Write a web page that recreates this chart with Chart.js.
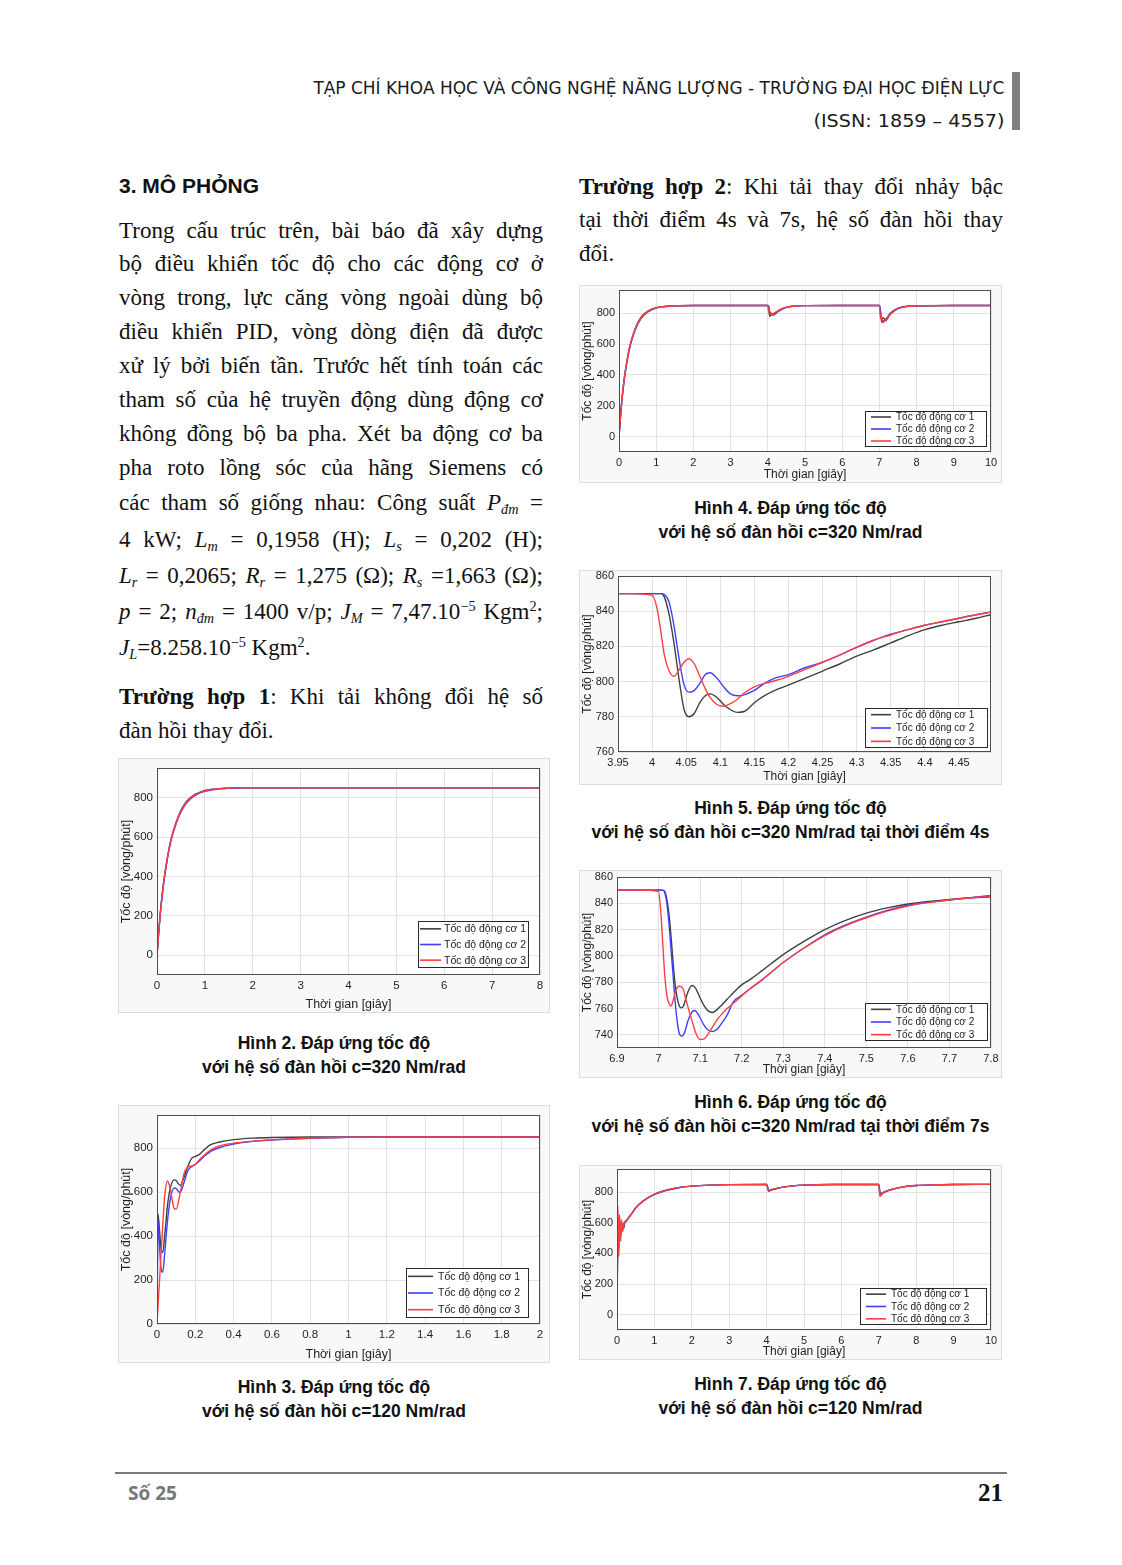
<!DOCTYPE html>
<html><head><meta charset="utf-8">
<script src="https://cdn.jsdelivr.net/npm/chart.js@4.4.1/dist/chart.umd.min.js"></script>
<style>
html,body{margin:0;padding:0;background:#fff;}
body{width:1122px;height:1565px;position:relative;overflow:hidden;}
.abs{position:absolute;white-space:nowrap;}
.hdr{font-family:'Liberation Sans Narrow','DejaVu Sans Condensed',sans-serif;font-size:18px;color:#1a1a1a;line-height:24px;transform-origin:right center;}
.tx{position:absolute;font-family:'Liberation Serif','Times New Roman',serif;font-size:23px;color:#111;line-height:30px;width:424px;white-space:nowrap;text-align:justify;text-align-last:justify;}
.nj{text-align-last:left;}
.h3{position:absolute;font-family:'Liberation Sans',Arial,sans-serif;font-weight:bold;font-size:21px;line-height:26px;color:#111;}
.cap{position:absolute;font-family:'Liberation Sans',Arial,sans-serif;font-weight:bold;font-size:17.5px;text-align:center;line-height:24px;color:#111;white-space:nowrap;}
.fig{position:absolute;}
.fig canvas{display:block;}
sub,sup{font-size:0.62em;line-height:0;}
sub{vertical-align:-0.3em;}
sup{vertical-align:0.55em;}
</style>
</head><body>

<!-- header -->
<div class="abs hdr" id="hdr1" style="right:118px;top:76px;">TẠP CHÍ KHOA HỌC VÀ CÔNG NGHỆ NĂNG LƯỢNG - TRƯỜNG ĐẠI HỌC ĐIỆN LỰC</div>
<div class="abs hdr" id="hdr2" style="right:118px;top:109px;">(ISSN: 1859 – 4557)</div>
<div class="abs" style="left:1012px;top:72px;width:8px;height:58px;background:#7f7f7f;"></div>

<!-- left column -->
<div class="h3" style="left:119px;top:173px;">3. MÔ PHỎNG</div>
<div class="tx" style="left:119px;top:216px;">Trong cấu trúc trên, bài báo đã xây dựng</div>
<div class="tx" style="left:119px;top:249px;">bộ điều khiển tốc độ cho các động cơ ở</div>
<div class="tx" style="left:119px;top:283px;">vòng trong, lực căng vòng ngoài dùng bộ</div>
<div class="tx" style="left:119px;top:317px;">điều khiển PID, vòng dòng điện đã được</div>
<div class="tx" style="left:119px;top:351px;">xử lý bởi biến tần. Trước hết tính toán các</div>
<div class="tx" style="left:119px;top:385px;">tham số của hệ truyền động dùng động cơ</div>
<div class="tx" style="left:119px;top:419px;">không đồng bộ ba pha. Xét ba động cơ ba</div>
<div class="tx" style="left:119px;top:453px;">pha roto lồng sóc của hãng Siemens có</div>
<div class="tx" style="left:119px;top:488px;">các tham số giống nhau: Công suất <i>P<sub>đm</sub></i> =</div>
<div class="tx" style="left:119px;top:525px;">4 kW; <i>L<sub>m</sub></i> = 0,1958 (H); <i>L<sub>s</sub></i> = 0,202 (H);</div>
<div class="tx" style="left:119px;top:561px;"><i>L<sub>r</sub></i> = 0,2065; <i>R<sub>r</sub></i> = 1,275 (Ω); <i>R<sub>s</sub></i> =1,663 (Ω);</div>
<div class="tx" style="left:119px;top:597px;"><i>p</i> = 2; <i>n<sub>đm</sub></i> = 1400 v/p; <i>J<sub>M</sub></i> = 7,47.10<sup>−5</sup> Kgm<sup>2</sup>;</div>
<div class="tx nj" style="left:119px;top:633px;"><i>J<sub>L</sub></i>=8.258.10<sup>−5</sup> Kgm<sup>2</sup>.</div>
<div class="tx" style="left:119px;top:682px;"><b>Trường hợp 1</b>: Khi tải không đổi hệ số</div>
<div class="tx nj" style="left:119px;top:716px;">đàn hồi thay đổi.</div>

<!-- right column -->
<div class="tx" style="left:579px;top:172px;"><b>Trường hợp 2</b>: Khi tải thay đổi nhảy bậc</div>
<div class="tx" style="left:579px;top:205px;">tại thời điểm 4s và 7s, hệ số đàn hồi thay</div>
<div class="tx nj" style="left:579px;top:239px;">đổi.</div>

<!-- figures -->
<div class="fig" style="left:118px;top:758px;"><canvas id="c2" width="432" height="255"></canvas></div>
<div class="cap" style="left:118px;width:432px;top:1031px;">Hình 2. Đáp ứng tốc độ<br>với hệ số đàn hồi c=320 Nm/rad</div>

<div class="fig" style="left:118px;top:1105px;"><canvas id="c3" width="432" height="258"></canvas></div>
<div class="cap" style="left:118px;width:432px;top:1375px;">Hình 3. Đáp ứng tốc độ<br>với hệ số đàn hồi c=120 Nm/rad</div>

<div class="fig" style="left:579px;top:285px;"><canvas id="c4" width="423" height="198"></canvas></div>
<div class="cap" style="left:579px;width:423px;top:496px;">Hình 4. Đáp ứng tốc độ<br>với hệ số đàn hồi c=320 Nm/rad</div>

<div class="fig" style="left:579px;top:570px;"><canvas id="c5" width="423" height="215"></canvas></div>
<div class="cap" style="left:579px;width:423px;top:796px;">Hình 5. Đáp ứng tốc độ<br>với hệ số đàn hồi c=320 Nm/rad tại thời điểm 4s</div>

<div class="fig" style="left:579px;top:870px;"><canvas id="c6" width="423" height="208"></canvas></div>
<div class="cap" style="left:579px;width:423px;top:1090px;">Hình 6. Đáp ứng tốc độ<br>với hệ số đàn hồi c=320 Nm/rad tại thời điểm 7s</div>

<div class="fig" style="left:579px;top:1165px;"><canvas id="c7" width="423" height="195"></canvas></div>
<div class="cap" style="left:579px;width:423px;top:1372px;">Hình 7. Đáp ứng tốc độ<br>với hệ số đàn hồi c=120 Nm/rad</div>

<!-- footer -->
<div class="abs" style="left:115px;top:1472px;width:892px;height:2px;background:#7a7a7a;"></div>
<div class="abs" style="left:128px;top:1481px;font-family:'Open Sans','Liberation Sans',sans-serif;font-weight:bold;font-size:19px;line-height:24px;color:#777;">Số 25</div>
<div class="abs" style="right:119px;top:1479px;font-family:'Liberation Serif',serif;font-weight:bold;font-size:25px;line-height:28px;color:#111;">21</div>

<script>
// ---------------- DATA ----------------
const seriesLabels = ['Tốc độ động cơ 1', 'Tốc độ động cơ 2', 'Tốc độ động cơ 3'];

// Hình 2: c=320, tải không đổi (0..8 s)
const fig2_t  = [0, 0.03, 0.06, 0.1, 0.15, 0.2, 0.25, 0.3, 0.4, 0.5, 0.6, 0.7, 0.8, 0.9, 1.0, 1.2, 1.4, 1.6, 1.8, 2.0, 3, 4, 5, 6, 7, 8];
const fig2_m1 = [0, 100, 190, 290, 390, 470, 540, 595, 675, 735, 775, 800, 817, 828, 836, 843, 847, 849, 850, 850, 850, 850, 850, 850, 850, 850];
const fig2_m2 = [0, 95, 185, 285, 385, 465, 533, 588, 668, 727, 767, 793, 811, 824, 832, 841, 846, 848, 849, 850, 850, 850, 850, 850, 850, 850];
const fig2_m3 = [0, 98, 188, 288, 388, 468, 537, 592, 672, 731, 771, 797, 814, 826, 834, 842, 846, 849, 850, 850, 850, 850, 850, 850, 850, 850];
const fig2_xticks = [0, 1, 2, 3, 4, 5, 6, 7, 8];
const fig2_yticks = [0, 200, 400, 600, 800];

// Hình 3: c=120, tải không đổi (0..2 s)
const fig3_t  = [0, 0.005, 0.012, 0.02, 0.03, 0.04, 0.055, 0.07, 0.09, 0.1, 0.12, 0.14, 0.16, 0.18, 0.2, 0.22, 0.25, 0.28, 0.32, 0.4, 0.5, 0.6, 0.8, 1.0, 1.2, 1.5, 2.0];
const fig3_m1 = [0, 500, 440, 350, 325, 400, 540, 620, 655, 652, 630, 665, 715, 752, 762, 770, 795, 815, 826, 838, 845, 848, 850, 850, 850, 850, 850];
const fig3_m2 = [0, 470, 380, 260, 235, 320, 470, 570, 618, 615, 598, 640, 695, 715, 725, 740, 765, 785, 800, 818, 830, 836, 844, 849, 850, 850, 850];
const fig3_m3 = [0, 80, 180, 300, 450, 580, 650, 610, 525, 522, 590, 680, 712, 718, 725, 745, 770, 790, 808, 822, 831, 837, 845, 849, 850, 850, 850];
const fig3_xticks = [0, 0.2, 0.4, 0.6, 0.8, 1, 1.2, 1.4, 1.6, 1.8, 2];
const fig3_yticks = [0, 200, 400, 600, 800];

// Hình 4: c=320, tải thay đổi tại 4 s và 7 s (0..10 s)
const fig4_t  = [0, 0.03, 0.06, 0.1, 0.15, 0.2, 0.3, 0.4, 0.5, 0.6, 0.7, 0.8, 1.0, 1.2, 1.5, 2, 3, 4, 4.02, 4.05, 4.1, 4.15, 4.25, 4.4, 4.6, 4.8, 5, 6, 7, 7.03, 7.06, 7.1, 7.15, 7.3, 7.5, 7.8, 8.2, 9, 10];
const fig4_m1 = [0, 100, 190, 290, 390, 470, 595, 675, 735, 775, 800, 817, 836, 843, 848, 850, 850, 850, 845, 780, 790, 788, 806, 828, 842, 847, 849, 850, 850, 800, 760, 770, 760, 801, 833, 845, 848, 850, 850];
const fig4_m2 = [0, 95, 185, 285, 385, 465, 588, 668, 727, 767, 793, 811, 832, 841, 847, 850, 850, 850, 848, 795, 800, 795, 811, 830, 843, 847, 849, 850, 850, 820, 740, 753, 748, 795, 830, 846, 848, 850, 850];
const fig4_m3 = [0, 98, 188, 288, 388, 468, 592, 672, 731, 771, 797, 814, 834, 842, 848, 850, 850, 850, 810, 812, 788, 797, 811, 830, 843, 847, 849, 850, 850, 765, 776, 738, 755, 795, 829, 845, 848, 850, 850];
const fig4_xticks = [0, 1, 2, 3, 4, 5, 6, 7, 8, 9, 10];
const fig4_yticks = [0, 200, 400, 600, 800];

// Hình 5: c=320, chi tiết tại 4 s
const fig5_t  = [3.95, 3.97, 4.0, 4.007, 4.013, 4.018, 4.025, 4.032, 4.04, 4.047, 4.054, 4.062, 4.07, 4.078, 4.085, 4.095, 4.105, 4.115, 4.125, 4.135, 4.15, 4.165, 4.18, 4.2, 4.225, 4.25, 4.275, 4.3, 4.325, 4.35, 4.375, 4.4, 4.425, 4.45, 4.475, 4.497];
const fig5_m1 = [850, 850, 850, 850, 850, 848, 838, 822, 800, 784, 780, 782, 788, 792, 793, 791, 787, 784, 782.5, 783, 788, 792, 795, 798, 802, 806, 810, 814.5, 818, 822, 826, 829.5, 832, 834, 836, 838];
const fig5_m2 = [850, 850, 850, 850, 850, 849.5, 845, 832, 812, 798, 794, 795, 799, 804, 805, 802, 797, 793, 792, 792.5, 795, 799, 802, 804, 808, 811, 815, 819.5, 823.5, 827, 829.5, 832, 834, 836, 838, 839.5];
const fig5_m3 = [850, 850, 849, 842, 828, 815, 806, 803, 807, 811, 813, 810, 803, 796, 791, 787, 786, 787.5, 790, 793.5, 797, 799, 800.5, 803, 807, 811, 815, 819.5, 823.5, 826.5, 829.5, 832, 834, 836, 838, 839.5];
const fig5_xticks = [3.95, 4, 4.05, 4.1, 4.15, 4.2, 4.25, 4.3, 4.35, 4.4, 4.45];
const fig5_yticks = [760, 780, 800, 820, 840, 860];

// Hình 6: c=320, chi tiết tại 7 s
const fig6_t  = [6.9, 6.95, 7.0, 7.005, 7.01, 7.015, 7.02, 7.025, 7.03, 7.035, 7.04, 7.045, 7.05, 7.055, 7.06, 7.065, 7.07, 7.08, 7.085, 7.09, 7.1, 7.11, 7.12, 7.13, 7.14, 7.15, 7.165, 7.18, 7.2, 7.22, 7.25, 7.3, 7.35, 7.4, 7.45, 7.5, 7.55, 7.6, 7.7, 7.8];
const fig6_m1 = [850, 850, 850, 850, 850, 849, 843, 832, 815, 795, 778, 768, 762, 760.5, 762, 767, 772, 777.5, 777, 775, 768, 762, 758, 757, 759, 762, 767, 772, 778, 782, 789, 801, 811, 820, 827, 832.5, 836.5, 839.5, 843, 845];
const fig6_m2 = [850, 850, 850, 850, 850, 848, 840, 825, 805, 785, 765, 750, 741, 739, 740, 744, 750, 757, 758.5, 758, 753, 747, 743.5, 742.5, 744, 748, 755, 765, 770, 775, 782, 795, 806, 816, 823.5, 829.5, 834.5, 838.5, 842.5, 846];
const fig6_m3 = [850, 850, 849, 835, 810, 785, 770, 764, 762, 766, 772, 776, 777, 776.5, 774, 768, 762, 751, 746, 741, 736.5, 737, 741, 746, 751, 755, 760, 764, 769.5, 775, 782, 795, 806, 815.5, 823, 829, 834, 838, 842.5, 845.5];
const fig6_xticks = [6.9, 7, 7.1, 7.2, 7.3, 7.4, 7.5, 7.6, 7.7, 7.8];
const fig6_yticks = [740, 760, 780, 800, 820, 840, 860];

// Hình 7: c=120, tải thay đổi tại 4 s và 7 s (0..10 s)
const fig7_t  = [0, 0.01, 0.02, 0.03, 0.04, 0.05, 0.06, 0.08, 0.1, 0.12, 0.15, 0.18, 0.2, 0.25, 0.3, 0.4, 0.5, 0.7, 1.0, 1.3, 1.6, 2.0, 2.5, 3, 4, 4.03, 4.06, 4.1, 4.2, 4.4, 4.7, 5, 6, 7, 7.03, 7.06, 7.1, 7.2, 7.4, 7.7, 8, 8.5, 9, 10];
const fig7_m1 = [0, 250, 420, 560, 500, 430, 480, 560, 520, 580, 590, 560, 600, 612, 628, 662, 697, 742, 785, 810, 826, 838, 845, 848, 850, 830, 805, 810, 818, 830, 840, 845, 849, 850, 800, 790, 795, 805, 820, 835, 842, 847, 849, 850];
const fig7_m2 = [0, 300, 500, 450, 380, 520, 560, 480, 540, 600, 560, 580, 600, 612, 627, 660, 695, 740, 784, 810, 826, 838, 845, 848, 850, 825, 808, 812, 818, 830, 840, 845, 849, 850, 790, 780, 792, 805, 820, 835, 842, 847, 849, 850];
const fig7_m3 = [0, 400, 710, 600, 450, 380, 650, 610, 480, 620, 540, 600, 590, 615, 629, 662, 697, 742, 786, 811, 827, 838, 845, 848, 850, 815, 808, 815, 820, 830, 840, 845, 849, 850, 770, 785, 790, 805, 820, 835, 842, 847, 849, 850];
const fig7_xticks = [0, 1, 2, 3, 4, 5, 6, 7, 8, 9, 10];
const fig7_yticks = [0, 200, 400, 600, 800];

// ---------------- STYLE / LAYOUT ----------------
const lineColors = ['#404040', '#3f3fff', '#ff3f3f'];
const FONT = '"Liberation Sans", Arial, sans-serif';

const decor = {
  id: 'decor',
  beforeDraw(chart) {
    const c = chart.ctx, a = chart.chartArea;
    c.save();
    c.fillStyle = '#f8f8f8';
    c.fillRect(0, 0, chart.width, chart.height);
    c.strokeStyle = '#dcdcdc';
    c.lineWidth = 1;
    c.strokeRect(0.5, 0.5, chart.width - 1, chart.height - 1);
    c.fillStyle = '#ffffff';
    c.fillRect(a.left, a.top, a.right - a.left, a.bottom - a.top);
    c.restore();
  },
  afterDatasetsDraw(chart, args, L) {
    const c = chart.ctx, a = chart.chartArea;
    c.save();
    c.strokeStyle = '#4d4d4d';
    c.lineWidth = 1;
    c.strokeRect(Math.round(a.left) + 0.5, Math.round(a.top) + 0.5, Math.round(a.right - a.left) - 1, Math.round(a.bottom - a.top) - 1);
    const x0 = Math.round(a.right - L.r - L.w), y0 = Math.round(a.bottom - L.b - L.h);
    c.fillStyle = '#fff';
    c.fillRect(x0, y0, L.w, L.h);
    c.strokeStyle = '#2a2a2a';
    c.strokeRect(x0 + 0.5, y0 + 0.5, L.w - 1, L.h - 1);
    const rh = L.h / 3;
    c.font = L.fs + 'px ' + FONT;
    c.textBaseline = 'middle';
    chart.data.datasets.forEach((d, i) => {
      const yy = y0 + rh * (i + 0.5);
      c.strokeStyle = d.borderColor;
      c.lineWidth = 1.6;
      c.beginPath(); c.moveTo(x0 + L.lx, yy); c.lineTo(x0 + L.lx + L.ll, yy); c.stroke();
      c.fillStyle = '#1a1a1a';
      c.fillText(d.label, x0 + L.tx, yy + 0.5);
    });
    c.restore();
  }
};

function fmt(v) { return String(+v.toFixed(3)); }

function makeChart(f) {
  const datasets = f.s.map((arr, i) => ({
    label: seriesLabels[i],
    data: f.t.map((x, j) => ({ x: x, y: arr[j] })),
    borderColor: lineColors[i],
    borderWidth: 1.4,
    pointRadius: 0,
    fill: false,
    cubicInterpolationMode: 'monotone',
    order: 3 - i
  }));
  const tickFont = { family: FONT, size: f.fs };
  const titleFont = { family: FONT, size: f.ts };
  new Chart(document.getElementById(f.id), {
    type: 'line',
    data: { datasets },
    options: {
      responsive: false, animation: false, devicePixelRatio: 1,
      layout: { padding: { left: 0, top: f.pt, right: f.pr, bottom: 0 } },
      plugins: { legend: { display: false }, tooltip: { enabled: false }, decor: f.lg },
      scales: {
        x: {
          type: 'linear', min: f.xr[0], max: f.xr[1],
          afterBuildTicks: ax => { ax.ticks = f.xt.map(v => ({ value: v })); },
          afterFit: s => { s.height = f.xh; s.paddingLeft = 0; s.paddingRight = 0; s.paddingTop = 0; s.paddingBottom = 0; },
          grid: { color: '#e2e2e2', drawTicks: false, lineWidth: 1 },
          border: { display: false },
          ticks: { font: tickFont, color: '#1f1f1f', padding: 4, maxRotation: 0, autoSkip: false, callback: v => fmt(v) },
          title: { display: true, text: 'Thời gian [giây]', font: titleFont, color: '#1f1f1f', padding: { top: 0, bottom: 1 } }
        },
        y: {
          type: 'linear', min: f.yr[0], max: f.yr[1],
          afterBuildTicks: ax => { ax.ticks = f.yt.map(v => ({ value: v })); },
          afterFit: s => { s.width = f.yw; s.paddingLeft = 0; s.paddingRight = 0; s.paddingTop = 0; s.paddingBottom = 0; },
          grid: { color: '#e2e2e2', drawTicks: false, lineWidth: 1 },
          border: { display: false },
          ticks: { font: tickFont, color: '#1f1f1f', padding: 4, autoSkip: false, callback: v => fmt(v) },
          title: { display: true, text: 'Tốc độ [vòng/phút]', font: titleFont, color: '#1f1f1f', padding: { top: 1, bottom: 0 } }
        }
      }
    },
    plugins: [decor]
  });
}

const figs = [
  { id: 'c2', t: fig2_t, s: [fig2_m1, fig2_m2, fig2_m3], xr: [0, 8], xt: fig2_xticks, yr: [-100, 950], yt: fig2_yticks,
    yw: 39, xh: 38, pt: 10, pr: 10, fs: 11.5, ts: 12.5, lg: { w: 111, h: 47, r: 11, b: 7, lx: 2, ll: 21, tx: 26, fs: 10.5 } },
  { id: 'c3', t: fig3_t, s: [fig3_m1, fig3_m2, fig3_m3], xr: [0, 2], xt: fig3_xticks, yr: [0, 950], yt: fig3_yticks,
    yw: 39, xh: 39, pt: 10, pr: 10, fs: 11.5, ts: 12.5, lg: { w: 123, h: 50, r: 11, b: 6, lx: 2, ll: 25, tx: 32, fs: 10.5 } },
  { id: 'c4', t: fig4_t, s: [fig4_m1, fig4_m2, fig4_m3], xr: [0, 10], xt: fig4_xticks, yr: [-100, 950], yt: fig4_yticks,
    yw: 40, xh: 31, pt: 5, pr: 11, fs: 11, ts: 12, lg: { w: 122, h: 36, r: 4, b: 5, lx: 6, ll: 20, tx: 31, fs: 10 } },
  { id: 'c5', t: fig5_t, s: [fig5_m1, fig5_m2, fig5_m3], xr: [3.95, 4.497], xt: fig5_xticks, yr: [760, 860], yt: fig5_yticks,
    yw: 39, xh: 33, pt: 6, pr: 11, fs: 11, ts: 12, lg: { w: 123, h: 40, r: 3, b: 4, lx: 6, ll: 20, tx: 31, fs: 10 } },
  { id: 'c6', t: fig6_t, s: [fig6_m1, fig6_m2, fig6_m3], xr: [6.9, 7.8], xt: fig6_xticks, yr: [730, 860], yt: fig6_yticks,
    yw: 38, xh: 30, pt: 7, pr: 11, fs: 11, ts: 12, lg: { w: 123, h: 38, r: 3, b: 7, lx: 6, ll: 20, tx: 31, fs: 10 } },
  { id: 'c7', t: fig7_t, s: [fig7_m1, fig7_m2, fig7_m3], xr: [0, 10], xt: fig7_xticks, yr: [-100, 950], yt: fig7_yticks,
    yw: 38, xh: 30, pt: 4, pr: 11, fs: 11, ts: 12, lg: { w: 127, h: 37, r: 4, b: 5, lx: 6, ll: 20, tx: 31, fs: 10 } }
];
figs.forEach(makeChart);

// fit header lines to their widths in the reference
function fitWidth(id, w) {
  const el = document.getElementById(id);
  const cur = el.getBoundingClientRect().width;
  if (cur > 0) el.style.transform = 'scaleX(' + (w / cur) + ')';
}
fitWidth('hdr1', 691);
fitWidth('hdr2', 191);
</script>
</body></html>
